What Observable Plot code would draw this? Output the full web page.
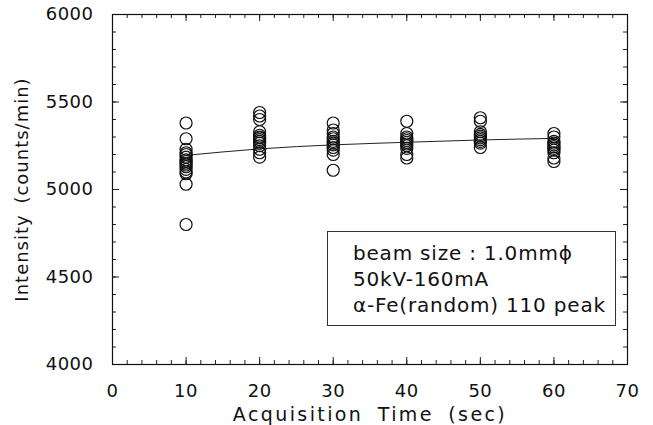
<!DOCTYPE html>
<html>
<head>
<meta charset="utf-8">
<script src="https://cdn.jsdelivr.net/npm/d3@7"></script>
<script src="https://cdn.jsdelivr.net/npm/@observablehq/plot@0.6"></script>
<style>
  html, body { margin: 0; padding: 0; background: white; }
  #wrap { position: relative; width: 653px; height: 425px; }
  #legend {
    position: absolute; left: 327px; top: 231px; width: 289px; height: 95px;
    border: 1px solid #333; box-sizing: border-box;
    font-family: "DejaVu Sans", sans-serif; font-size: 20px; line-height: 26px; letter-spacing: 0.8px;
    padding: 8px 0 0 25px; color: #111; background: white;
  }
  svg [aria-label="x-axis label"] text { letter-spacing: 2.4px; word-spacing: 6px; }
  svg [aria-label="y-axis label"] text { letter-spacing: 1px; word-spacing: 4px; }
  svg [aria-label="x-axis tick label"] text, svg [aria-label="y-axis tick label"] text { letter-spacing: 0.5px; }
</style>
</head>
<body>
<div id="wrap"><div id="legend"></div></div>
<script>
// Acquisition times (sec)
const times = [10, 20, 30, 40, 50, 60];
// Repeated intensity measurements (counts/min) at each acquisition time
const t10 = [5380, 5290, 5230, 5210, 5200, 5185, 5170, 5160, 5150, 5140, 5130, 5115, 5100, 5090, 5030, 4800];
const t20 = [5440, 5420, 5400, 5330, 5310, 5300, 5295, 5285, 5275, 5265, 5250, 5230, 5210, 5185];
const t30 = [5380, 5340, 5320, 5300, 5290, 5275, 5265, 5255, 5240, 5225, 5200, 5110];
const t40 = [5390, 5320, 5300, 5290, 5280, 5270, 5260, 5250, 5235, 5200, 5180];
const t50 = [5410, 5390, 5330, 5315, 5305, 5295, 5285, 5275, 5265, 5240];
const t60 = [5320, 5300, 5275, 5265, 5255, 5245, 5235, 5225, 5210, 5180, 5160];
// Fitted trend curve values at each time
const fit = [5195, 5232, 5255, 5270, 5283, 5292];
// Tick labels
const xTicks = [0, 10, 20, 30, 40, 50, 60, 70];
const yTicks = [4000, 4500, 5000, 5500, 6000];
const xMinor = d3.range(0, 71, 2);
const yMinor = d3.range(4000, 6001, 100);
const legendLines = ["beam size : 1.0mm\u03D5", "50kV-160mA", "\u03B1-Fe(random) 110 peak"];

const series = [t10, t20, t30, t40, t50, t60];
const points = series.flatMap((vals, i) => vals.map(v => ({t: times[i], v})));
const fitData = times.map((t, i) => ({t, v: fit[i]}));

const frameH = 425 - 14 - 61;
const frameW = 653 - 112 - 26;

const chart = Plot.plot({
  width: 653, height: 425,
  marginLeft: 112, marginRight: 26, marginTop: 14, marginBottom: 61,
  x: {domain: [0, 70]},
  y: {domain: [4000, 6000]},
  style: {fontFamily: "DejaVu Sans, sans-serif", fontSize: "18px", color: "#111", background: "white"},
  marks: [
    Plot.tickX(xMinor, {insetTop: frameH - 4, stroke: "#222"}),
    Plot.tickX(xTicks, {insetTop: frameH - 7, stroke: "#222"}),
    Plot.tickX(xMinor, {insetBottom: frameH - 4, stroke: "#222"}),
    Plot.tickX(xTicks, {insetBottom: frameH - 7, stroke: "#222"}),
    Plot.tickY(yMinor, {insetRight: frameW - 4, stroke: "#222"}),
    Plot.tickY(yTicks, {insetRight: frameW - 7, stroke: "#222"}),
    Plot.tickY(yMinor, {insetLeft: frameW - 4, stroke: "#222"}),
    Plot.tickY(yTicks, {insetLeft: frameW - 7, stroke: "#222"}),
    Plot.frame({stroke: "#111", strokeWidth: 1.2}),
    Plot.axisX(xTicks, {tickSize: 0, tickPadding: 20, fontSize: 18, tickFormat: d => String(d), label: null}),
    Plot.axisX({ticks: [], tickSize: 0, fontSize: 19, label: "Acquisition Time (sec)", labelAnchor: "center", labelOffset: 56, labelArrow: "none"}),
    Plot.axisY(yTicks, {tickSize: 0, tickPadding: 19, fontSize: 18, tickFormat: d => String(d), label: "Intensity (counts/min)", labelAnchor: "center", labelOffset: 97, labelArrow: "none"}),
    Plot.line(fitData, {x: "t", y: "v", curve: "natural", stroke: "#222", strokeWidth: 1}),
    Plot.dot(points, {x: "t", y: "v", r: 6, stroke: "#111", strokeWidth: 1.2, fill: "none"})
  ]
});
const wrap = document.getElementById("wrap");
wrap.insertBefore(chart, wrap.firstChild);
document.getElementById("legend").innerHTML = legendLines.map(s => `<div>${s}</div>`).join("");
</script>
</body>
</html>
